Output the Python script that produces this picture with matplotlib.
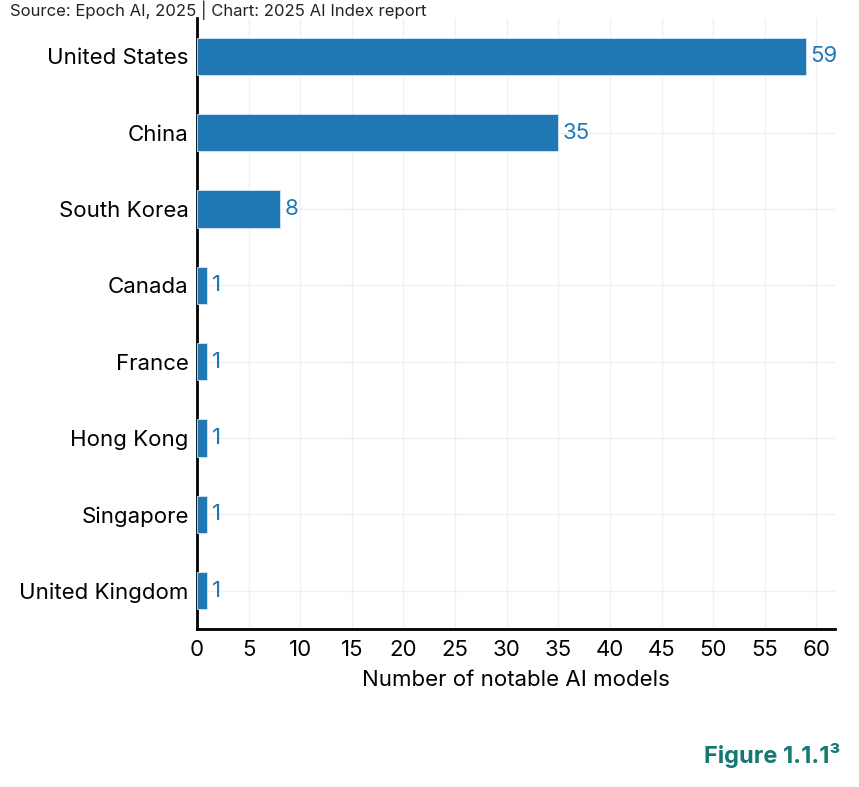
import matplotlib.pyplot as plt

countries = ['United States', 'China', 'South Korea', 'Canada', 'France',
             'Hong Kong', 'Singapore', 'United Kingdom']
models = [59, 35, 8, 1, 1, 1, 1, 1]
x_ticks = list(range(0, 61, 5))

plt.rcParams['font.family'] = ['Inter', 'DejaVu Sans']

fig = plt.figure(figsize=(8.59, 7.87), dpi=100)
ax = fig.add_axes([0.2293, 0.2008, 0.7427, 0.7762])

y = list(range(len(countries)))
ax.barh(y, models, height=0.49, color='#1f77b4', edgecolor='#d6e6f2', linewidth=0.6, zorder=3)

for yi, v in zip(y, models):
    ax.text(v + 0.45, yi, str(v), va='center', ha='left', fontsize=16, color='#1f77b4')

ax.set_ylim(len(countries) - 0.5, -0.5)
ax.set_xlim(0, 61.8)
ax.set_yticks(y)
ax.set_yticklabels(countries, fontsize=16)
ax.set_xticks(x_ticks)
ax.tick_params(axis='x', labelsize=16, length=0, pad=8)
ax.tick_params(axis='y', length=0, pad=6)

ax.grid(True, color='#f0f0f0', linewidth=1, zorder=0)
for s in ['top', 'right']:
    ax.spines[s].set_visible(False)
for s in ['left', 'bottom']:
    ax.spines[s].set_linewidth(2)
    ax.spines[s].set_color('black')

ax.set_xlabel('Number of notable AI models', fontsize=16, labelpad=7)

fig.text(0.012, 0.999, 'Source: Epoch AI, 2025 | Chart: 2025 AI Index report',
         fontsize=12, color='#222222', va='top', ha='left')
fig.text(0.978, 0.04, 'Figure 1.1.1³', fontsize=17, fontweight='bold',
         color='#127a72', ha='right', va='center')

fig.savefig('out.png', dpi=100)
